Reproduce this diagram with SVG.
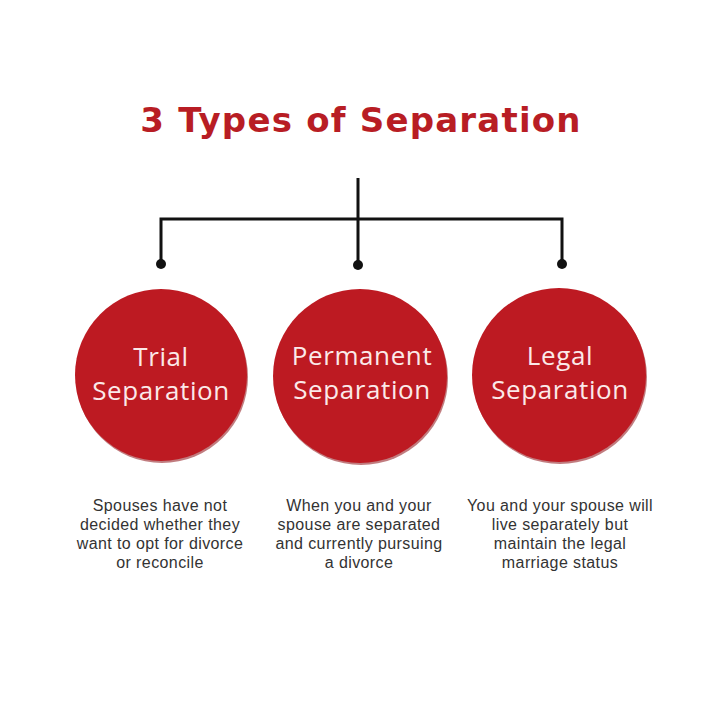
<svg xmlns="http://www.w3.org/2000/svg" width="720" height="720" viewBox="0 0 720 720">
<style>
.title{font-family:"DejaVu Sans","Liberation Sans",sans-serif;font-weight:700;font-size:34px;letter-spacing:1.2px;fill:#b81d24;text-anchor:middle}
.circ{fill:#bd1a22}
.shadow{fill:#8e1016;opacity:0.55}
.lbl{font-family:"Open Sans","Liberation Sans",sans-serif;font-size:26px;letter-spacing:0.6px;fill:#fbe9e9;text-anchor:middle}
.desc{font-family:"Liberation Sans",Arial,sans-serif;font-size:16px;letter-spacing:0.4px;fill:#333;text-anchor:middle}
.ln{stroke:#111;stroke-width:3;fill:none}
.dot{fill:#111}
</style>
<rect width="720" height="720" fill="#fff"/>
<text class="title" x="361" y="132">3 Types of Separation</text>
<g id="connectors">
<path class="ln" d="M358 178V265M161 265V219H562V265"/>
<circle class="dot" cx="161" cy="264" r="5"/>
<circle class="dot" cx="358" cy="265" r="5"/>
<circle class="dot" cx="562" cy="264" r="5"/>
</g>
<g id="trial">
<circle class="shadow" cx="162" cy="377" r="86"/>
<circle class="circ" cx="161" cy="375" r="86"/>
<text class="lbl" x="161" y="366">Trial</text>
<text class="lbl" x="161" y="400">Separation</text>
<text class="desc" x="160" y="511">Spouses have not</text>
<text class="desc" x="160" y="530">decided whether they</text>
<text class="desc" x="160" y="549">want to opt for divorce</text>
<text class="desc" x="160" y="568">or reconcile</text>
</g>
<g id="permanent">
<circle class="shadow" cx="361" cy="378" r="87"/>
<circle class="circ" cx="360" cy="376" r="87"/>
<text class="lbl" x="362" y="365">Permanent</text>
<text class="lbl" x="362" y="399">Separation</text>
<text class="desc" x="359" y="511">When you and your</text>
<text class="desc" x="359" y="530">spouse are separated</text>
<text class="desc" x="359" y="549">and currently pursuing</text>
<text class="desc" x="359" y="568">a divorce</text>
</g>
<g id="legal">
<circle class="shadow" cx="560" cy="377" r="87"/>
<circle class="circ" cx="559" cy="375" r="87"/>
<text class="lbl" x="560" y="365">Legal</text>
<text class="lbl" x="560" y="399">Separation</text>
<text class="desc" x="560" y="511">You and your spouse will</text>
<text class="desc" x="560" y="530">live separately but</text>
<text class="desc" x="560" y="549">maintain the legal</text>
<text class="desc" x="560" y="568">marriage status</text>
</g>
</svg>
